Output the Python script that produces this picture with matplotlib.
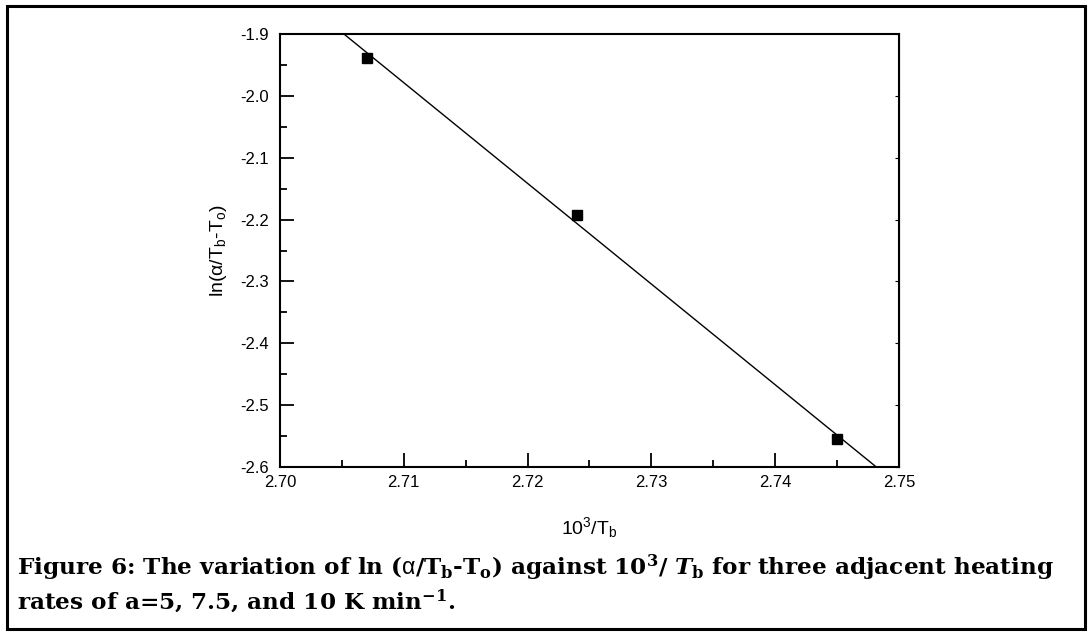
import numpy as np
import matplotlib.pyplot as plt
from matplotlib.patches import Rectangle
from matplotlib.ticker import MultipleLocator

plt.rcParams['mathtext.fontset'] = 'custom'
plt.rcParams['mathtext.rm'] = 'DejaVu Serif:bold'
plt.rcParams['mathtext.it'] = 'DejaVu Serif:bold:italic'
plt.rcParams['mathtext.bf'] = 'DejaVu Serif:bold'
plt.rcParams['mathtext.sf'] = 'Liberation Sans'
plt.rcParams['font.family'] = 'Liberation Sans'

# data
inv_tb = [2.707, 2.724, 2.745]
ln_rate = [-1.938, -2.192, -2.555]

xticks = [2.70, 2.71, 2.72, 2.73, 2.74, 2.75]
yticks = [-1.9, -2.0, -2.1, -2.2, -2.3, -2.4, -2.5, -2.6]

# linear fit through the three points
slope, icpt = np.polyfit(inv_tb, ln_rate, 1)
xfit = np.array([2.69, 2.76])

W, H = 1089, 632
fig = plt.figure(figsize=(W / 100, H / 100), dpi=100)
ax = fig.add_axes([280 / W, 1 - 467 / H, 619 / W, 433 / H])

ax.plot(xfit, slope * xfit + icpt, color='black', lw=1.0)
ax.plot(inv_tb, ln_rate, 's', color='black', ms=7)

ax.set_xlim(2.70, 2.75)
ax.set_ylim(-2.6, -1.9)
ax.set_xticks(xticks)
ax.set_yticks(yticks)
ax.set_xticklabels(['%.2f' % v for v in xticks])
ax.set_yticklabels(['%.1f' % v for v in yticks])
ax.xaxis.set_minor_locator(MultipleLocator(0.005))
ax.yaxis.set_minor_locator(MultipleLocator(0.05))

ax.tick_params(which='major', direction='in', length=10, width=1.3,
               labelsize=12)
ax.tick_params(axis='x', which='major', pad=6)
ax.tick_params(axis='y', which='major', pad=8)
ax.tick_params(which='minor', direction='in', length=5, width=1.3)
for s in ax.spines.values():
    s.set_linewidth(1.5)

# small ticks on right side
ax2 = ax.secondary_yaxis('right')
ax2.set_yticks(yticks)
ax2.tick_params(direction='in', length=3, labelright=False)

ax.set_xlabel(r'10$^{\mathsf{3}}$/T$_{\mathsf{b}}$', fontsize=14, labelpad=18)
ax.set_ylabel(r'ln($\mathsf{\alpha}$/T$_{\mathsf{b}}$-T$_{\mathsf{o}}$)', fontsize=14,
              labelpad=8)

cap1 = (r'Figure 6: The variation of ln ($\mathsf{\alpha}$/T$_\mathrm{b}$-T$_\mathrm{o}$) '
        r'against 10$^\mathrm{3}$/ $T_\mathrm{b}$ for three adjacent heating')
cap2 = r'rates of a=5, 7.5, and 10 K min$^\mathrm{-1}$.'
fig.text(17 / W, 1 - 568 / H, cap1, fontsize=16.7, fontfamily='DejaVu Serif',
         fontweight='bold', va='center', ha='left')
fig.text(17 / W, 1 - 601 / H, cap2, fontsize=16.7, fontfamily='DejaVu Serif',
         fontweight='bold', va='center', ha='left')

fig.patches.append(Rectangle((7 / W, 1 - 629 / H), 1078 / W, 623 / H,
                             transform=fig.transFigure, fill=False,
                             edgecolor='black', lw=2.2))

fig.savefig('out.png', dpi=100)
